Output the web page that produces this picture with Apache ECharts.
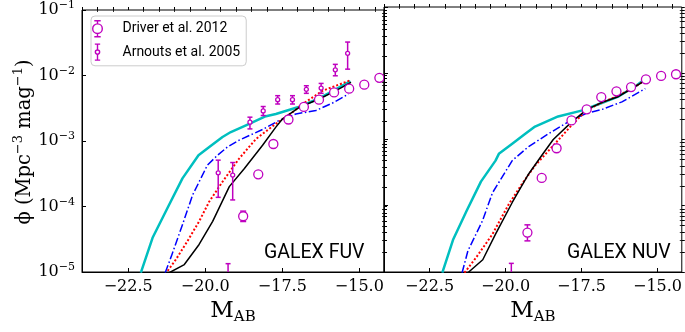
<!DOCTYPE html>
<html><head><meta charset="utf-8">
<script src="https://cdn.jsdelivr.net/npm/echarts@6/dist/echarts.min.js"></script>
<style>html,body{margin:0;padding:0;background:#fff}#c{width:685px;height:332px}</style>
</head><body><div id="c"></div>
<script>
// ---------- tick labels ----------
const xTickLabels = [-22.5, -20.0, -17.5, -15.0];
const yTickLabels = [1e-5, 1e-4, 1e-3, 1e-2, 1e-1];
const panelLabels = ['GALEX FUV', 'GALEX NUV'];
const legendNames = ['Driver et al. 2012', 'Arnouts et al. 2005'];
const yTitle = '{a|\u03D5 (Mpc}{s|\u22123}{a| mag}{s|\u22121}{a|)}';

// ---------- FUV models ----------
const fuvCyanX  = [-22.09,-21.71,-21.23,-20.74,-20.22,-19.87,-19.44,-19.17,-18.68,-18.03,-17.71,-17.00,-16.35,-15.81,-15.29];
const fuvCyanY  = [9.75e-6,3.33e-5,9.4e-5,2.69e-4,6.07e-4,8.1e-4,1.15e-3,1.37e-3,1.73e-3,2.39e-3,2.59e-3,3.27e-3,4.38e-3,6.0e-3,8.2e-3];
const fuvBlueX  = [-21.30,-21.08,-20.74,-20.41,-19.93,-19.60,-19.28,-18.90,-18.14,-17.60,-17.06,-16.41,-15.87,-15.35];
const fuvBlueY  = [9.75e-6,1.85e-5,5.28e-5,1.50e-4,4.29e-4,6.07e-4,8.1e-4,1.03e-3,1.50e-3,2.06e-3,2.59e-3,2.92e-3,3.80e-3,5.21e-3];
const fuvRedX   = [-21.22,-20.95,-20.58,-20.20,-19.87,-19.44,-18.90,-18.35,-17.71,-17.17,-16.84,-16.19,-15.33];
const fuvRedY   = [1.04e-5,1.56e-5,2.95e-5,5.93e-5,1.19e-4,2.39e-4,5.40e-4,1.08e-3,1.83e-3,2.75e-3,3.67e-3,5.86e-3,8.32e-3];
const fuvBlackX = [-21.17,-20.68,-20.20,-19.76,-19.22,-18.73,-18.14,-17.71,-17.49,-16.95,-16.30,-15.76,-15.27];
const fuvBlackY = [9.75e-6,1.30e-5,2.63e-5,5.93e-5,2.01e-4,3.80e-4,8.61e-4,1.63e-3,2.18e-3,3.27e-3,4.38e-3,5.86e-3,7.83e-3];

// ---------- FUV data ----------
const fuvDrvX  = [-18.77,-18.28,-17.79,-17.30,-16.80,-16.31,-15.82,-15.33,-14.84,-14.35];
const fuvDrvY  = [7.1e-5,3.1e-4,9.0e-4,2.13e-3,3.31e-3,4.28e-3,5.52e-3,6.3e-3,7.24e-3,9.2e-3];
const fuvDrvLo = [5.9e-5,2.95e-4,8.6e-4,2.05e-3,3.2e-3,4.15e-3,5.35e-3,6.1e-3,7.0e-3,8.9e-3];
const fuvDrvHi = [8.5e-5,3.25e-4,9.4e-4,2.21e-3,3.42e-3,4.41e-3,5.7e-3,6.5e-3,7.5e-3,9.5e-3];
const fuvArnX  = [-19.58,-19.26,-19.11,-18.55,-18.12,-17.65,-17.17,-16.72,-16.24,-15.78,-15.38];
const fuvArnY  = [3.27e-4,6e-6,3.02e-4,1.94e-3,2.88e-3,4.28e-3,4.28e-3,6.14e-3,6.43e-3,1.22e-2,2.18e-2];
const fuvArnLo = [1.38e-4,2.5e-6,1.26e-4,1.53e-3,2.45e-3,3.67e-3,3.67e-3,5.34e-3,5.34e-3,9.9e-3,1.25e-2];
const fuvArnHi = [5.1e-4,1.34e-5,4.69e-4,2.31e-3,3.36e-3,4.92e-3,4.92e-3,6.98e-3,7.57e-3,1.48e-2,3.24e-2];

// ---------- NUV models ----------
const nuvCyanX  = [-22.08,-21.72,-21.28,-20.81,-20.33,-20.22,-19.78,-19.35,-19.03,-18.27,-17.47,-16.92,-16.27,-15.68,-15.39];
const nuvCyanY  = [9.75e-6,3.13e-5,8.4e-5,2.31e-4,4.8e-4,6.07e-4,8.61e-4,1.22e-3,1.57e-3,2.23e-3,2.75e-3,3.43e-3,4.49e-3,6.58e-3,8.32e-3];
const nuvBlueX  = [-21.43,-21.24,-20.76,-20.43,-19.78,-19.24,-18.59,-17.95,-17.37,-16.82,-16.17,-15.40];
const nuvBlueY  = [9.75e-6,2.08e-5,5.93e-5,1.57e-4,4.81e-4,7.83e-4,1.22e-3,1.83e-3,2.45e-3,2.85e-3,3.70e-3,5.86e-3];
const nuvRedX   = [-21.35,-20.97,-20.43,-19.89,-19.46,-19.03,-18.48,-17.83,-17.34,-16.82,-16.33,-15.88,-15.40];
const nuvRedY   = [9.75e-6,1.65e-5,3.72e-5,1.06e-4,2.13e-4,4.04e-4,7.64e-4,1.63e-3,2.75e-3,3.63e-3,4.49e-3,5.73e-3,7.83e-3];
const nuvBlackX = [-21.24,-20.75,-20.33,-19.78,-19.24,-18.81,-18.43,-17.83,-17.32,-16.82,-16.32,-15.89,-15.40];
const nuvBlackY = [9.75e-6,1.53e-5,3.72e-5,1.12e-4,3.02e-4,5.73e-4,1.0e-3,1.83e-3,2.85e-3,3.63e-3,4.38e-3,5.73e-3,7.83e-3];

// ---------- NUV data ----------
const nuvDrvX  = [-19.28,-18.81,-18.32,-17.83,-17.33,-16.85,-16.35,-15.87,-15.38,-14.88,-14.39];
const nuvDrvY  = [3.94e-5,2.63e-4,7.38e-4,1.94e-3,2.85e-3,4.37e-3,5.34e-3,6.19e-3,8.11e-3,9.1e-3,9.66e-3];
const nuvDrvLo = [2.95e-5,2.5e-4,7.05e-4,1.87e-3,2.75e-3,4.22e-3,5.15e-3,5.98e-3,7.85e-3,8.8e-3,9.3e-3];
const nuvDrvHi = [5.15e-5,2.76e-4,7.7e-4,2.01e-3,2.95e-3,4.52e-3,5.53e-3,6.4e-3,8.37e-3,9.4e-3,1.0e-2];
const nuvArnX  = [-19.81];
const nuvArnY  = [6e-6];
const nuvArnLo = [2.5e-6];
const nuvArnHi = [1.35e-5];

// ---------- styling ----------
const MAG = '#bf00bf', CYAN = '#00bfbf', BLUE = '#0000ff', RED = '#ff0000', BLACK = '#000000';
const SERIF = 'DejaVu Serif', SANS = 'Roboto';
const X_MIN = -24, X_MAX = -14.2, Y_MIN = 1e-5, Y_MAX = 1e-1;

const xAllTicks = [];
for (let v = -24; v <= X_MAX + 1e-9; v += 0.5) xAllTicks.push(+v.toFixed(1));
const xMinorTicks = xAllTicks.filter(v => xTickLabels.indexOf(v) < 0);
const yMinorTicks = [];
for (let d = -5; d <= -2; d++) for (let k = 2; k <= 9; k++) yMinorTicks.push(+(k * Math.pow(10, d)).toPrecision(3));
const yAllTicks = yTickLabels.concat(yMinorTicks);

const zip = (a, b) => a.map((v, i) => [v, b[i]]);

function xAxisDef(gi, kind) {
  const base = { type: 'value', gridIndex: gi, min: X_MIN, max: X_MAX, splitLine: { show: false }, axisLine: { show: false } };
  if (kind === 'main') {
    return Object.assign(base, {
      axisLine: { show: true, onZero: false, lineStyle: { color: '#000', width: 1 } },
      axisTick: { show: true, customValues: xTickLabels, inside: true, length: 4, lineStyle: { color: '#000', width: 1 } },
      axisLabel: { customValues: xTickLabels, margin: 7, color: '#000', fontFamily: SERIF, fontSize: 16,
        formatter: v => '\u2212' + Math.abs(v).toFixed(1) },
      name: '{m|M}{s|AB}', nameLocation: 'middle', nameGap: 26,
      nameTextStyle: { rich: {
        m: { fontFamily: SERIF, fontSize: 23, lineHeight: 26, color: '#000' },
        s: { fontFamily: SERIF, fontSize: 15, lineHeight: 14, verticalAlign: 'bottom', color: '#000' } } }
    });
  }
  if (kind === 'out') {
    return Object.assign(base, { axisTick: { show: true, customValues: xAllTicks, inside: false, length: 3, lineStyle: { color: '#000', width: 1 } }, axisLabel: { show: false } });
  }
  return Object.assign(base, { axisTick: { show: true, customValues: xMinorTicks, inside: true, length: 2, lineStyle: { color: '#000', width: 0.8 } }, axisLabel: { show: false } });
}

function yAxisDef(gi, kind) {
  const base = { type: 'log', logBase: 10, gridIndex: gi, min: Y_MIN, max: Y_MAX, splitLine: { show: false }, axisLine: { show: false } };
  if (kind === 'main') {
    return Object.assign(base, {
      axisLine: { show: true, onZero: false, lineStyle: { color: '#000', width: 1 } },
      axisTick: { show: true, customValues: yTickLabels, inside: true, length: 4, lineStyle: { color: '#000', width: 1 } },
      axisLabel: { show: gi === 0, customValues: yTickLabels, margin: 7, color: '#000',
        formatter: v => '{b|10}{s|\u2212' + Math.abs(Math.round(Math.log10(v))) + '}',
        rich: {
          b: { fontFamily: SERIF, fontSize: 16, lineHeight: 20, color: '#000' },
          s: { fontFamily: SERIF, fontSize: 11, lineHeight: 10, verticalAlign: 'top', color: '#000' } } }
    });
  }
  if (kind === 'out') {
    return Object.assign(base, { axisTick: { show: true, customValues: yAllTicks, inside: false, length: 3, lineStyle: { color: '#000', width: 1 } }, axisLabel: { show: false } });
  }
  return Object.assign(base, { axisTick: { show: true, customValues: yMinorTicks, inside: true, length: 2, lineStyle: { color: '#000', width: 0.8 } }, axisLabel: { show: false } });
}

function lineSeries(gi, xs, ys, color, width, type) {
  return { type: 'line', xAxisIndex: gi, yAxisIndex: gi, data: zip(xs, ys), symbol: 'none', showSymbol: false,
    clip: true, silent: true, z: 2, animation: false,
    lineStyle: { color: color, width: width, type: type, cap: 'butt', join: 'round' } };
}

function errRender(r, capW, lw) {
  return function (params, api) {
    const x = api.value(0), y = api.value(1), lo = api.value(2), hi = api.value(3);
    const c = api.coord([x, y]), pl = api.coord([x, lo]), ph = api.coord([x, hi]);
    const st = { stroke: MAG, lineWidth: lw, fill: null };
    const ch = [];
    if (ph[1] < c[1] - r) {
      ch.push({ type: 'line', shape: { x1: c[0], y1: ph[1], x2: c[0], y2: c[1] - r }, style: st });
      ch.push({ type: 'line', shape: { x1: c[0] - capW / 2, y1: ph[1], x2: c[0] + capW / 2, y2: ph[1] }, style: st });
    }
    if (pl[1] > c[1] + r) {
      ch.push({ type: 'line', shape: { x1: c[0], y1: c[1] + r, x2: c[0], y2: pl[1] }, style: st });
      ch.push({ type: 'line', shape: { x1: c[0] - capW / 2, y1: pl[1], x2: c[0] + capW / 2, y2: pl[1] }, style: st });
    }
    ch.push({ type: 'circle', shape: { cx: c[0], cy: c[1], r: r }, style: { stroke: MAG, lineWidth: 1.3, fill: '#ffffff' } });
    return { type: 'group', children: ch };
  };
}

function errSeries(gi, name, xs, ys, los, his, r, capW) {
  return { type: 'custom', name: name, xAxisIndex: gi, yAxisIndex: gi, clip: true, z: 5, silent: true, animation: false,
    itemStyle: { color: MAG },
    data: xs.map((v, i) => [v, ys[i], los[i], his[i]]),
    encode: { x: 0, y: 1 },
    renderItem: errRender(r, capW, 1.5) };
}

const DASHDOT = [8, 2.5, 1.5, 2.5];
const DOTTED = [2, 2];

const series = [
  lineSeries(0, fuvCyanX, fuvCyanY, CYAN, 2.5, 'solid'),
  lineSeries(0, fuvBlueX, fuvBlueY, BLUE, 1.5, DASHDOT),
  lineSeries(0, fuvRedX, fuvRedY, RED, 2, DOTTED),
  lineSeries(0, fuvBlackX, fuvBlackY, BLACK, 1.5, 'solid'),
  errSeries(0, legendNames[0], fuvDrvX, fuvDrvY, fuvDrvLo, fuvDrvHi, 4.5, 6),
  errSeries(0, legendNames[1], fuvArnX, fuvArnY, fuvArnLo, fuvArnHi, 2, 5),
  lineSeries(1, nuvCyanX, nuvCyanY, CYAN, 2.5, 'solid'),
  lineSeries(1, nuvBlueX, nuvBlueY, BLUE, 1.5, DASHDOT),
  lineSeries(1, nuvRedX, nuvRedY, RED, 2, DOTTED),
  lineSeries(1, nuvBlackX, nuvBlackY, BLACK, 1.5, 'solid'),
  errSeries(1, legendNames[0], nuvDrvX, nuvDrvY, nuvDrvLo, nuvDrvHi, 4.5, 6),
  errSeries(1, legendNames[1], nuvArnX, nuvArnY, nuvArnLo, nuvArnHi, 2, 5)
];

const ICON_DRV = 'path://M2,0.5L8,0.5M5,0.5L5,3.5M5,12.5L5,15.5M2,15.5L8,15.5M9.5,8A4.5,4.5,0,1,1,0.5,8A4.5,4.5,0,1,1,9.5,8Z';
const ICON_ARN = 'path://M0.5,0.5L5.5,0.5M3,0.5L3,6M3,10L3,15.5M0.5,15.5L5.5,15.5M5,8A2,2,0,1,1,1,8A2,2,0,1,1,5,8Z';

const option = {
  animation: false,
  backgroundColor: '#ffffff',
  grid: [
    { left: 82, top: 7, width: 302, height: 265, show: true, borderColor: '#000', borderWidth: 1, backgroundColor: 'transparent' },
    { left: 384, top: 7, width: 303, height: 265, show: true, borderColor: '#000', borderWidth: 1, backgroundColor: 'transparent' }
  ],
  xAxis: [xAxisDef(0, 'main'), xAxisDef(1, 'main'), xAxisDef(0, 'out'), xAxisDef(1, 'out'), xAxisDef(0, 'minor'), xAxisDef(1, 'minor')],
  yAxis: [yAxisDef(0, 'main'), yAxisDef(1, 'main'), yAxisDef(0, 'out'), yAxisDef(1, 'out'), yAxisDef(0, 'minor'), yAxisDef(1, 'minor')],
  legend: {
    left: 91, top: 16, orient: 'vertical', selectedMode: false,
    backgroundColor: 'rgba(255,255,255,0.85)', borderColor: '#cccccc', borderWidth: 1, borderRadius: 4,
    padding: [4, 6, 5, 1], itemGap: 6, itemWidth: 40, itemHeight: 16,
    textStyle: { fontFamily: SANS, fontSize: 14, color: '#000' },
    data: [
      { name: legendNames[0], icon: ICON_DRV, itemStyle: { color: 'transparent', borderColor: MAG, borderWidth: 1.4 } },
      { name: legendNames[1], icon: ICON_ARN, itemStyle: { color: 'transparent', borderColor: MAG, borderWidth: 1.4 } }
    ]
  },
  graphic: [
    { type: 'text', left: 264, top: 243, style: { text: panelLabels[0], fill: '#000', font: '19.5px Roboto' } },
    { type: 'text', left: 567, top: 243, style: { text: panelLabels[1], fill: '#000', font: '19.5px Roboto' } },
    { type: 'text', x: 25, y: 142, rotation: Math.PI / 2,
      style: { text: yTitle, align: 'center', verticalAlign: 'middle',
        rich: {
          a: { fontFamily: SERIF, fontSize: 19.5, lineHeight: 25, fill: '#000' },
          s: { fontFamily: SERIF, fontSize: 13, lineHeight: 12, verticalAlign: 'top', fill: '#000' } } } }
  ],
  series: series
};

const chart = echarts.init(document.getElementById('c'), null, { renderer: 'canvas' });
chart.setOption(option);
</script>
</body></html>
